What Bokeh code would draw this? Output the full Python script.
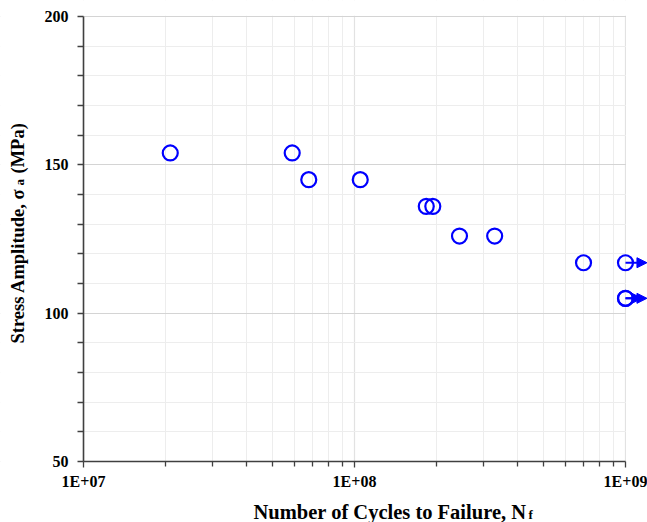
import math
from bokeh.plotting import figure
from bokeh.models import (Range1d, FixedTicker, Label, Arrow, NormalHead,
                          BoxAnnotation, ColumnDataSource)
from bokeh.embed import file_html
from bokeh.resources import INLINE

# ---- data ----
cycles = [2.09e7, 5.89e7, 6.78e7, 1.05e8, 1.84e8, 1.945e8, 2.44e8, 3.29e8, 7.0e8, 1.0e9, 1.0e9, 1.0e9]
stress = [154, 154, 145, 145, 136, 136, 126, 126, 117, 117, 105, 105]
runout = [0, 0, 0, 0, 0, 0, 0, 0, 0, 1, 1, 1]
runout_tip = [1.2e9, 1.15e9, 1.2e9]   # arrow tips for runouts

x_ticks = [1e7, 1e8, 1e9]
x_tick_labels = {1e7: "1E+07", 1e8: "1E+08", 1e9: "1E+09"}
x_minor = [k * 10 ** d for d in (7, 8) for k in range(2, 10)]
y_ticks = [50, 100, 150, 200]
y_minor = [v for v in range(50, 201, 10) if v not in y_ticks]

FONT = "Liberation Serif"
BLUE = "#0000ff"
AXIS = "#404040"

# pixel geometry of the plotting area inside the 647x522 canvas
W, H = 647, 522
L, R, T, B = 83, 625, 16, 461          # axis positions (canvas px)
xmin, xmax = x_ticks[0], x_ticks[-1]
ymin, ymax = y_ticks[0], y_ticks[-1]
dec_px = (R - L) / math.log10(xmax / xmin)
y_px = (B - T) / (ymax - ymin)
x_start = 10 ** (math.log10(xmin) - L / dec_px)
x_end = 10 ** (math.log10(xmax) + (W - R) / dec_px)
y_start = ymin - (H - B) / y_px
y_end = ymax + T / y_px

p = figure(width=W, height=H, x_axis_type="log",
           x_range=Range1d(x_start, x_end), y_range=Range1d(y_start, y_end),
           output_backend="svg", toolbar_location=None,
           min_border_left=0, min_border_right=0, min_border_top=0,
           min_border_bottom=0)
p.outline_line_color = None
p.background_fill_color = "white"

# axes drawn inside the frame at fixed locations
for ax in (p.xaxis, p.yaxis):
    ax.axis_line_color = AXIS
    ax.axis_line_width = 1.6
    ax.major_tick_line_color = AXIS
    ax.minor_tick_line_color = AXIS
    ax.major_tick_line_width = 1.3
    ax.minor_tick_line_width = 1.3
    ax.major_tick_in = 0
    ax.minor_tick_in = 0
    ax.major_label_text_font = FONT
    ax.major_label_text_font_style = "bold"
    ax.major_label_text_font_size = "16px"
    ax.major_label_text_color = "black"

p.xaxis.ticker = FixedTicker(ticks=x_ticks, minor_ticks=x_minor)
p.xaxis.major_label_overrides = x_tick_labels
p.xaxis.bounds = (xmin, xmax)
p.xaxis.fixed_location = ymin
p.xaxis.major_tick_out = 6
p.xaxis.minor_tick_out = 5
p.xaxis.major_label_standoff = 5

p.yaxis.ticker = FixedTicker(ticks=y_ticks, minor_ticks=y_minor)
p.yaxis.bounds = (ymin, ymax)
p.yaxis.fixed_location = xmin
p.yaxis.major_tick_out = 6
p.yaxis.minor_tick_out = 6
p.yaxis.major_label_standoff = 9

# grids
p.xgrid.ticker = FixedTicker(ticks=x_ticks, minor_ticks=x_minor)
p.ygrid.ticker = FixedTicker(ticks=y_ticks, minor_ticks=y_minor)
p.xgrid.grid_line_color = "#e2e2e2"
p.ygrid.grid_line_color = "#d4d4d4"
p.xgrid.minor_grid_line_color = "#ededed"
p.ygrid.minor_grid_line_color = "#ededed"
p.xgrid.grid_line_width = 1.2
p.ygrid.grid_line_width = 1.2

# white masks so the grid stays inside the plot area
mask = dict(fill_color="white", fill_alpha=1.0, line_color=None, level="underlay")
p.add_layout(BoxAnnotation(left=xmax * 1.004, **mask))
p.add_layout(BoxAnnotation(right=xmin, **mask))
p.add_layout(BoxAnnotation(top=ymin, **mask))
p.add_layout(BoxAnnotation(bottom=ymax + 0.25, **mask))

# runout arrows
ro_x = [c for c, r in zip(cycles, runout) if r]
ro_y = [s for s, r in zip(stress, runout) if r]
for xs, ys, xe in zip(ro_x, ro_y, runout_tip):
    p.add_layout(Arrow(x_start=xs, y_start=ys, x_end=xe, y_end=ys,
                       line_color=BLUE, line_width=2,
                       end=NormalHead(size=10, fill_color=BLUE, line_color=BLUE,
                                      line_width=1)))

src = ColumnDataSource(dict(x=cycles, y=stress))
p.scatter("x", "y", source=src, marker="circle", size=15,
          fill_color=None, line_color=BLUE, line_width=2.2)

# axis titles (manual, to allow subscripts), anchored at the axes corner
title_kw = dict(x=xmin, y=ymin, text_font=FONT, text_font_style="bold",
                text_color="black", text_align="left", text_baseline="alphabetic")
p.add_layout(Label(x_offset=170, y_offset=-50, text="Number of Cycles to Failure, N",
                   text_font_size="20.5px", **title_kw))
p.add_layout(Label(x_offset=445, y_offset=-53, text="f", text_font_size="13px",
                   **title_kw))

ang = math.pi / 2
p.add_layout(Label(x_offset=-66, y_offset=118, angle=ang, text="Stress Amplitude, σ",
                   text_font_size="18.5px", **title_kw))
p.add_layout(Label(x_offset=-64, y_offset=276, angle=ang, text="a",
                   text_font_size="13px", **title_kw))
p.add_layout(Label(x_offset=-66, y_offset=288, angle=ang, text="(MPa)",
                   text_font_size="18.5px", **title_kw))

open("out.html", "w").write(file_html(p, INLINE))
